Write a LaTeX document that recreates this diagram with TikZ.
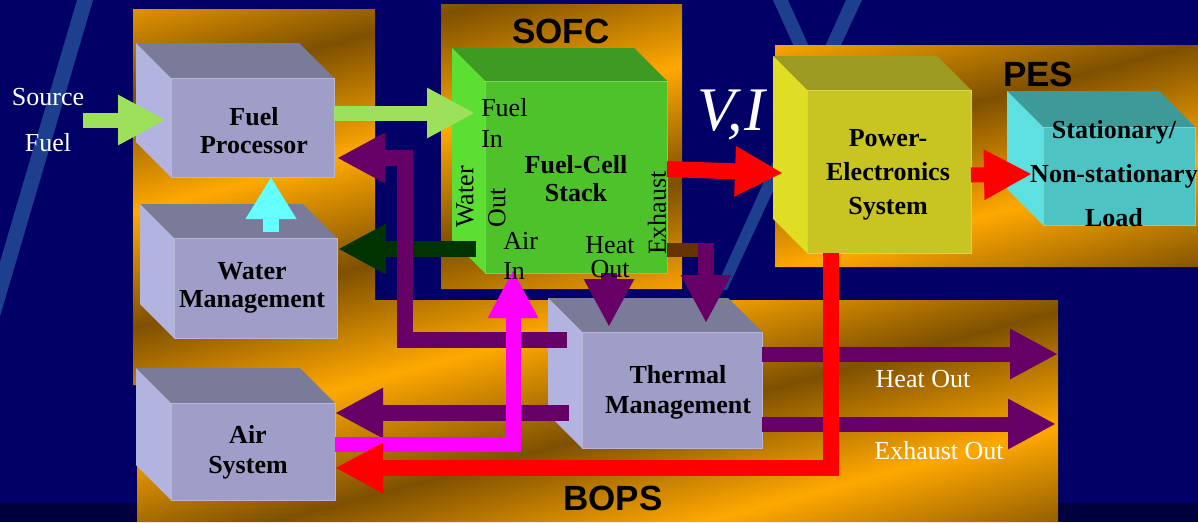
\documentclass[tikz,border=0pt]{standalone}
\usepackage{fontspec}
\setmainfont{Liberation Serif}
\newfontfamily\labelsans{Liberation Sans}
\usetikzlibrary{arrows.meta}

\definecolor{bgblue}{HTML}{000066}
\definecolor{bgdark}{HTML}{00003E}
\definecolor{stripe}{HTML}{2A5A9E}
\definecolor{goldA}{HTML}{FFA800}
\definecolor{goldB}{HTML}{7E5000}
\definecolor{lavF}{HTML}{9E9EC8}
\definecolor{lavT}{HTML}{7A7A99}
\definecolor{lavL}{HTML}{B3B3E0}
\definecolor{greenF}{HTML}{4DC22B}
\definecolor{greenT}{HTML}{3F9A24}
\definecolor{greenL}{HTML}{5DDE33}
\definecolor{yelF}{HTML}{C8C422}
\definecolor{yelT}{HTML}{9C9A20}
\definecolor{yelL}{HTML}{E0DE24}
\definecolor{cyF}{HTML}{4EC3C3}
\definecolor{cyT}{HTML}{3E9999}
\definecolor{cyL}{HTML}{5EE0E0}
\definecolor{lgreen}{HTML}{9DE05B}
\definecolor{cyanA}{HTML}{66FFFF}
\definecolor{dgreen}{HTML}{003300}
\definecolor{purp}{HTML}{660066}
\definecolor{brownA}{HTML}{663300}
\definecolor{pinkA}{HTML}{FF00FF}
\definecolor{redA}{HTML}{FF0000}

% gold texture shading: alternating bright/dark bands
\newcount\goldi
\def\goldstops{color(0bp)=(goldA)}
\goldi=0
\loop\ifnum\goldi<25
  \advance\goldi by 1
  \ifodd\goldi
    \edef\goldstops{\goldstops; color(\the\numexpr 4*\goldi\relax bp)=(goldB)}%
  \else
    \edef\goldstops{\goldstops; color(\the\numexpr 4*\goldi\relax bp)=(goldA)}%
  \fi
\repeat
\edef\goldtmp{\noexpand\pgfdeclarehorizontalshading{goldbands}{100bp}{\goldstops}}
\goldtmp

% 3D box: #1 name, #2 x1, #3 y1, #4 x2, #5 y2 (front face), #6 depth, #7 colour prefix
\newcommand\cuboid[7]{%
  \fill[#7T] (#2,#3) -- (#2-#6,#3-#6) -- (#4-#6,#3-#6) -- (#4,#3) -- cycle;
  \fill[#7L] (#2,#3) -- (#2-#6,#3-#6) -- (#2-#6,#5-#6) -- (#2,#5) -- cycle;
  \node[fill=#7F, draw=#7F!75!white, line width=0.75pt, inner sep=0pt,
        anchor=north west, minimum width={(#4-#2)*0.75pt},
        minimum height={(#5-#3)*0.75pt}] (#1) at (#2,#3) {};
}

\begin{document}
\begin{tikzpicture}[x=0.75pt,y=-0.75pt,
  fatarrow/.style={line width=11.25pt, -{Triangle[length=36pt,width=35.25pt]}, line join=miter},
  fatline/.style={line width=11.25pt, line join=miter},
  boxlbl/.style={font=\fontsize{19.5}{#1}\selectfont\bfseries, align=center, inner sep=0pt},
  boxlbl/.default=21pt,
  plain/.style={font=\fontsize{19.5}{#1}\selectfont, inner sep=0pt},
  plain/.default=21pt,
  grouplbl/.style={font=\labelsans\fontsize{26.25}{30}\selectfont\bfseries, inner sep=0pt},
]
\useasboundingbox (0,0) rectangle (1198,522);
\clip (0,0) rectangle (1198,522);

% background
\fill[bgblue] (0,0) rectangle (1198,522);
\fill[bgdark] (0,503) rectangle (1198,522);
\fill[stripe, opacity=0.7] (77,0) -- (93,0) -- (-4,330) -- (-20,330) -- cycle;
\fill[stripe, opacity=0.7] (846,0) -- (862,0) -- (727,290) -- (715,290) -- cycle;
\fill[stripe, opacity=0.7] (773,0) -- (788,0) -- (815,60) -- (800,60) -- cycle;

% gold panels
\begin{scope}
  \clip (133,9) rectangle (375,385) (441,4) rectangle (682,289)
        (775,45) rectangle (1198,267) (137,300) rectangle (1058,522);
  \shade[shading=goldbands, shading angle=105] (-101,-439) rectangle (1299,961);
\end{scope}

% boxes
\cuboid{fp}{171}{78}{334}{177}{35}{lav}
\cuboid{wm}{174}{238}{337}{338}{34}{lav}
\cuboid{as}{171}{403}{335}{500}{35}{lav}
\cuboid{fc}{485}{81}{667}{273}{33}{green}
\cuboid{tm}{582}{332}{762}{448}{34}{lav}
\cuboid{pe}{807}{90}{971}{253}{34}{yel}
\cuboid{ld}{1043}{127}{1195}{225}{36}{cy}

% connector end points
\coordinate (srcS) at (83,120);
\coordinate (fpIn) at (166,120);
\coordinate (fpOut) at (334,113);
\coordinate (fcFuelIn) at (475,113);
\coordinate (wmUp) at (271,232);
\coordinate (fpBot) at (271,177);
\coordinate (fcWater) at (476,249);
\coordinate (wmIn) at (338,249);
\coordinate (tmFb) at (567,340);
\coordinate (fbC1) at (405,340);
\coordinate (fbC2) at (405,158);
\coordinate (fpFb) at (337,158);
\coordinate (tmAir) at (569,413);
\coordinate (asIn1) at (335,413);
\coordinate (fcHeat) at (609,273);
\coordinate (tmHeat) at (609,327);
\coordinate (fcExh) at (667,250);
\coordinate (exhC) at (710,250);
\coordinate (exhTop) at (706,243);
\coordinate (tmExh) at (706,323);
\coordinate (tmHO) at (762,354);
\coordinate (heatEnd) at (1058,354);
\coordinate (tmEO) at (762,424);
\coordinate (exhEnd) at (1056,424);
\coordinate (asOut) at (335,444);
\coordinate (airC) at (513,444);
\coordinate (fcAirIn) at (513,270);
\coordinate (peBot) at (831,253);
\coordinate (redC) at (831,468);
\coordinate (asIn2) at (335,468);
\coordinate (fcOut) at (667,169);
\coordinate (peIn) at (783,173);
\coordinate (peOut) at (971,175);
\coordinate (ldIn) at (1032,174);

% connectors
\draw[fatarrow, draw=dgreen, line width=12pt] (fcWater) -- (wmIn);
\draw[fatarrow, draw=cyanA, line width=12pt, -{Triangle[length=31.5pt,width=36pt]}] (wmUp) -- (fpBot);
\draw[fatarrow, draw=lgreen] (srcS) -- (fpIn);
\draw[fatarrow, draw=lgreen] (fpOut) -- (fcFuelIn);
\draw[fatline, draw=brownA, line width=10.5pt] (fcExh) -- (exhC);
\draw[fatarrow, draw=purp, line width=12pt] (tmFb) -- (fbC1) -- (fbC2) -- (fpFb);
\draw[fatarrow, draw=purp, line width=12pt] (tmAir) -- (asIn1);
\draw[fatarrow, draw=purp, line width=12pt] (fcHeat) -- (tmHeat);
\draw[fatarrow, draw=purp, line width=12pt] (exhTop) -- (tmExh);
\draw[fatarrow, draw=purp] (tmHO) -- (heatEnd);
\draw[fatarrow, draw=purp] (tmEO) -- (exhEnd);
\draw[fatarrow, draw=pinkA] (asOut) -- (airC) -- (fcAirIn);
\draw[fatarrow, draw=redA, line width=12pt] (peBot) -- (redC) -- (asIn2);
\draw[fatarrow, draw=redA, line width=12pt] (fcOut) -- (peIn);
\draw[fatarrow, draw=redA] (peOut) -- (ldIn);

% labels
\node[boxlbl] (fpT) at (254,131) {Fuel\\Processor};
\node[boxlbl] (wmT) at (252,288) {Water\\Management};
\node[boxlbl=22.5pt] (asT) at (248,452) {Air\\System};
\node[boxlbl] (fcT) at (576,179) {Fuel-Cell\\Stack};
\node[boxlbl=22.5pt] (tmT) at (678,392) {Thermal\\Management};
\node[boxlbl=25.5pt] (peT) at (888,175) {Power-\\Electronics\\System};
\node[boxlbl=33pt] (ldT) at (1114,174) {Stationary/\\Non-stationary\\Load};

\node[plain=35pt, align=center, text=white] (srcT) at (48,120) {Source\\Fuel};
\node[plain=23.25pt, align=left, anchor=west] (fiT) at (481,123) {Fuel\\In};
\node[plain=22.5pt, align=left, anchor=west] (aiT) at (503,256) {Air\\In};
\node[plain=18pt, align=center] (hiT) at (610,257) {Heat\\Out};
\node[plain, rotate=90, anchor=west] (woT1) at (465,228) {Water};
\node[plain, rotate=90, anchor=west] (woT2) at (497,228) {Out};
\node[plain, rotate=90] (exT) at (657,213) {Exhaust};
\node[plain, text=white] (hoT) at (923,379) {Heat Out};
\node[plain, text=white] (eoT) at (939,451) {Exhaust Out};
\node[text=white, font=\fontsize{46.5}{50}\selectfont\itshape, inner sep=0pt] (viT) at (731,115) {V,\kern1pt I};

\node[grouplbl] (sofcT) at (561,31) {SOFC};
\node[grouplbl] (pesT) at (1038,74) {PES};
\node[grouplbl] (bopsT) at (613,498) {BOPS};
\end{tikzpicture}
\end{document}
